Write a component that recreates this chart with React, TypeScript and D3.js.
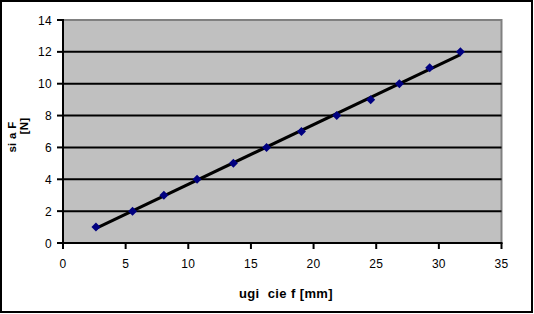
import React from "react";
import * as d3 from "d3";

const deflection = [2.63, 5.55, 8.05, 10.7, 13.6, 16.25, 19.03, 21.85, 24.56, 26.85, 29.27, 31.72];
const force = [1, 2, 3, 4, 5, 6, 7, 8, 9, 10, 11, 12];
const xTicks = [0, 5, 10, 15, 20, 25, 30, 35];
const yTicks = [0, 2, 4, 6, 8, 10, 12, 14];

const W = 534, H = 314;
const L = 63, R = 501.5, T = 20, B = 243;

export default function App() {
  const x = d3.scaleLinear().domain([0, 35]).range([L, R]);
  const y = d3.scaleLinear().domain([0, 14]).range([B, T]);
  const mx = d3.mean(deflection)!, my = d3.mean(force)!;
  const slope = d3.sum(deflection.map((d, i) => (d - mx) * (force[i] - my))) /
    d3.sum(deflection.map((d) => (d - mx) ** 2));
  const icpt = my - slope * mx;
  const x0 = d3.min(deflection)!, x1 = d3.max(deflection)!;
  const line = d3.line<number>().x((d) => x(d)).y((d) => y(icpt + slope * d));
  const diamond = "M0,-4.5L4.5,0L0,4.5L-4.5,0Z";
  const font = "'Liberation Sans', Arial, sans-serif";
  return (
    <svg width={W} height={H} style={{ position: "absolute", left: 0, top: 0 }}>
      <rect x={1} y={1} width={W - 3} height={H - 3} fill="white" stroke="black" strokeWidth={2} />
      <rect x={L} y={T} width={R - L} height={B - T} fill="#c0c0c0" stroke="#808080" strokeWidth={2} />
      {yTicks.filter((t) => t > 0 && t < 14).map((t) => (
        <line key={t} x1={L} x2={R} y1={y(t)} y2={y(t)} stroke="black" strokeWidth={2} />
      ))}
      <line x1={L} x2={L} y1={T - 1} y2={B + 1} stroke="black" strokeWidth={2} />
      <line x1={L - 1} x2={R + 1} y1={B} y2={B} stroke="black" strokeWidth={2} />
      {yTicks.map((t) => (
        <g key={t}>
          <line x1={L - 6} x2={L} y1={y(t)} y2={y(t)} stroke="black" strokeWidth={2} />
          <text x={L - 11} y={y(t) + 4.5} textAnchor="end" fontFamily={font} fontSize={12} letterSpacing={0.3}>{t}</text>
        </g>
      ))}
      {xTicks.map((t) => (
        <g key={t}>
          <line x1={x(t)} x2={x(t)} y1={B} y2={B + 6} stroke="black" strokeWidth={2} />
          <text x={x(t)} y={268} textAnchor="middle" fontFamily={font} fontSize={12} letterSpacing={0.3}>{t}</text>
        </g>
      ))}
      <path d={line([x0, x1])!} stroke="black" strokeWidth={3} fill="none" />
      {deflection.map((d, i) => (
        <path key={i} d={diamond} transform={`translate(${x(d)},${y(force[i])})`} fill="#000080" />
      ))}
      <text x={286} y={298} textAnchor="middle" fontFamily={font} fontSize={13} fontWeight="bold" letterSpacing={0.4} style={{ whiteSpace: "pre" }}>{"ugi  cie f [mm]"}</text>
      <text transform="translate(15.5,137) rotate(-90)" textAnchor="middle" fontFamily={font} fontSize={11.5} fontWeight="bold" letterSpacing={0.3}>si a F</text>
      <text transform="translate(28,126) rotate(-90)" textAnchor="middle" fontFamily={font} fontSize={11.5} fontWeight="bold" letterSpacing={0.3}>[N]</text>
    </svg>
  );
}
